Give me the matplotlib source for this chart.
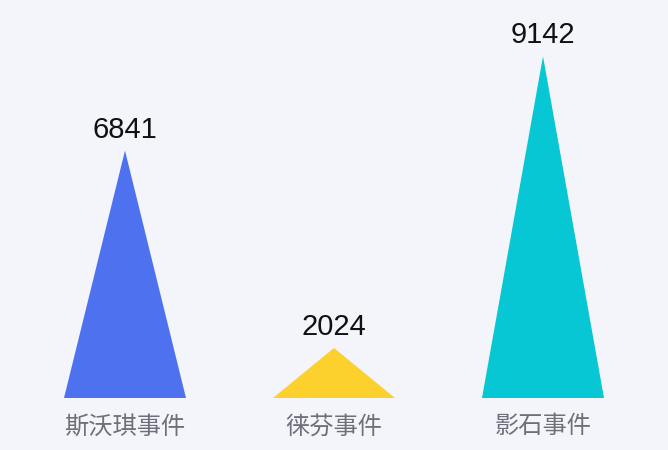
import matplotlib
matplotlib.use("Agg")
import matplotlib.pyplot as plt
from matplotlib.patches import Polygon

categories = ["斯沃琪事件", "徕芬事件", "影石事件"]
values = [6841, 2024, 9142]
colors = ["#4E72EF", "#FDD12D", "#06C7D3"]

plt.rcParams['font.family'] = ['Noto Sans CJK SC', 'DejaVu Sans']

W, H = 668, 450
fig = plt.figure(figsize=(W/100, H/100), dpi=100)
fig.patch.set_facecolor("#F4F5FA")
ax = fig.add_axes([20.5/W, (H-398)/H, 627/W, 398/H])
ax.set_facecolor("#F4F5FA")
ymin, ymax = 803, 10517
ax.set_xlim(-0.5, 2.5)
ax.set_ylim(ymin, ymax)
half = 61/209
for i, (v, c) in enumerate(zip(values, colors)):
    poly = Polygon([(i-half, ymin), (i, v), (i+half, ymin)], closed=True,
                   facecolor=c, edgecolor='none')
    ax.add_patch(poly)
    ax.annotate(str(v), (i, v), xytext=(0, 5), textcoords='offset points',
                ha='center', va='bottom', fontsize=21, color='#111111',
                family=['Liberation Sans', 'DejaVu Sans'])
ax.set_xticks(range(len(categories)))
ax.set_xticklabels(categories, fontsize=17.5, color='#6E7079')
ax.tick_params(axis='x', length=0, pad=11)
ax.set_yticks([])
for s in ax.spines.values():
    s.set_visible(False)
fig.savefig("out.png", dpi=100, facecolor=fig.get_facecolor())
